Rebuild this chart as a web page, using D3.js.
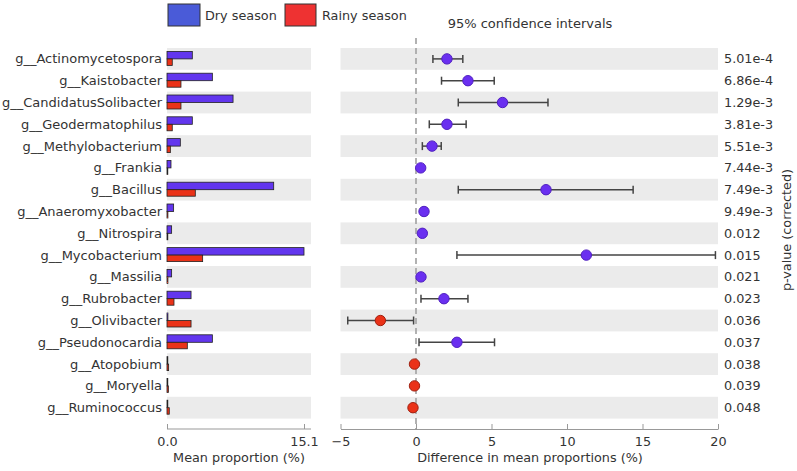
<!DOCTYPE html>
<html><head><meta charset="utf-8">
<script src="https://cdn.jsdelivr.net/npm/d3@7"></script>
<style>body{margin:0;background:#fff;}text{font-family:"DejaVu Sans",sans-serif;fill:#333;}</style>
</head><body><svg id="c" width="797" height="471"></svg>
<script>
const genera = ["g__Actinomycetospora","g__Kaistobacter","g__CandidatusSolibacter","g__Geodermatophilus","g__Methylobacterium","g__Frankia","g__Bacillus","g__Anaeromyxobacter","g__Nitrospira","g__Mycobacterium","g__Massilia","g__Rubrobacter","g__Olivibacter","g__Pseudonocardia","g__Atopobium","g__Moryella","g__Ruminococcus"];
const dryMean = [2.79,5.0,7.28,2.79,1.47,0.44,11.76,0.73,0.51,15.1,0.51,2.65,0.1,5.0,0.05,0.03,0.05];
const rainyMean = [0.58,1.54,1.54,0.58,0.37,0.06,3.12,0.1,0.06,3.93,0.1,0.77,2.65,2.24,0.18,0.15,0.25];
const diff = [2.05,3.44,5.73,2.05,1.06,0.31,8.61,0.53,0.42,11.28,0.33,1.85,-2.36,2.71,-0.1,-0.1,-0.2];
const ciLow = [1.12,1.69,2.8,0.88,0.42,0.2,2.8,0.35,0.3,2.71,0.22,0.33,-4.52,0.2,-0.15,-0.15,-0.27];
const ciHigh = [3.1,5.18,8.74,3.32,1.67,0.42,14.38,0.72,0.55,19.83,0.45,3.44,-0.16,5.2,-0.05,-0.05,-0.13];
const pValues = ["5.01e-4","6.86e-4","1.29e-3","3.81e-3","5.51e-3","7.44e-3","7.49e-3","9.49e-3","0.012","0.015","0.021","0.023","0.036","0.037","0.038","0.039","0.048"];
const leftTicks = [0, 15.1];
const rightTicks = [-5,0,5,10,15,20];

const svg = d3.select("#c");
const blueBar="#6236ee", redBar="#ea3218", blueLeg="#4a5bd8", redLeg="#ee3232";
const FS = 12.8;
const y = d3.scaleBand().domain(genera).range([48, 418.6]).padding(0);
const xL = d3.scaleLinear().domain([0,15.1]).range([167,304]);
const xR = d3.scaleLinear().domain([-5,20]).range([340.5,718]);

// bands
genera.forEach((g,i)=>{
  if(i%2===0){
    svg.append("rect").attr("x",167).attr("y",y(g)).attr("width",311-167).attr("height",y.bandwidth()).attr("fill","#ebebeb");
    svg.append("rect").attr("x",xR(-5)).attr("y",y(g)).attr("width",xR(20)-xR(-5)).attr("height",y.bandwidth()).attr("fill","#ebebeb");
  }
});

// labels
svg.append("g").selectAll("text").data(genera).join("text")
  .attr("x",162).attr("y",g=>y(g)+y.bandwidth()/2).attr("dy","0.35em")
  .attr("text-anchor","end").attr("font-size",13).text(d=>d);

// bars
const c = g=>y(g)+y.bandwidth()/2;
svg.append("g").selectAll("rect").data(genera).join("rect")
  .attr("x",xL(0)).attr("y",(g)=>c(g)-7.5).attr("width",(g,i)=>Math.max(0.8,xL(dryMean[i])-xL(0))).attr("height",7.5)
  .attr("fill",blueBar).attr("stroke","#222").attr("stroke-width",0.8);
svg.append("g").selectAll("rect").data(genera).join("rect")
  .attr("x",xL(0)).attr("y",(g)=>c(g)).attr("width",(g,i)=>Math.max(0.8,xL(rainyMean[i])-xL(0))).attr("height",6.5)
  .attr("fill",redBar).attr("stroke","#222").attr("stroke-width",0.8);

// left axis
const axL = svg.append("g").attr("transform","translate(0,429)")
  .call(d3.axisBottom(xL).tickValues(leftTicks).tickFormat(d3.format(".1f")).tickSizeInner(-5).tickSizeOuter(0).tickPadding(8));
axL.select(".domain").attr("d","M167,0H311").attr("stroke","#999");
axL.selectAll(".tick line").attr("stroke","#999");
axL.selectAll(".tick text").attr("font-size",FS).attr("fill","#333").attr("font-family","DejaVu Sans");
svg.append("text").attr("x",239).attr("y",462).attr("text-anchor","middle").attr("font-size",FS).text("Mean proportion (%)");

// zero dashed line
svg.append("line").attr("x1",xR(0)).attr("x2",xR(0)).attr("y1",38).attr("y2",429)
  .attr("stroke","#aaa").attr("stroke-width",1.8).attr("stroke-dasharray","6,4");

// error bars
const eb = svg.append("g").attr("stroke","#444").attr("stroke-width",1.5);
genera.forEach((g,i)=>{
  if(xR(ciHigh[i])-xR(ciLow[i])>4){
    eb.append("line").attr("x1",xR(ciLow[i])).attr("x2",xR(ciHigh[i])).attr("y1",c(g)).attr("y2",c(g));
    eb.append("line").attr("x1",xR(ciLow[i])).attr("x2",xR(ciLow[i])).attr("y1",c(g)-4).attr("y2",c(g)+4);
    eb.append("line").attr("x1",xR(ciHigh[i])).attr("x2",xR(ciHigh[i])).attr("y1",c(g)-4).attr("y2",c(g)+4);
  }
});
svg.append("g").selectAll("circle").data(genera).join("circle")
  .attr("cx",(g,i)=>xR(diff[i])).attr("cy",c).attr("r",5.2)
  .attr("fill",(g,i)=>diff[i]>=0?"#6a2ff0":"#ea3218")
  .attr("stroke",(g,i)=>diff[i]>=0?"#5020c0":"#a02010").attr("stroke-width",1);

// right axis
const axR = svg.append("g").attr("transform","translate(0,429)")
  .call(d3.axisBottom(xR).tickValues(rightTicks).tickFormat(d=>d<0?"\u2212"+Math.abs(d):d).tickSizeInner(-5).tickSizeOuter(0).tickPadding(8));
axR.select(".domain").attr("stroke","#999");
axR.selectAll(".tick line").attr("stroke","#999");
axR.selectAll(".tick text").attr("font-size",FS).attr("fill","#333").attr("font-family","DejaVu Sans");
svg.append("text").attr("x",530).attr("y",462).attr("text-anchor","middle").attr("font-size",FS).text("Difference in mean proportions (%)");

// p-values
svg.append("g").selectAll("text").data(genera).join("text")
  .attr("x",724).attr("y",c).attr("dy","0.35em").attr("font-size",FS).text((g,i)=>pValues[i]);
svg.append("text").attr("transform","translate(791,230) rotate(-90)").attr("text-anchor","middle").attr("font-size",FS).text("p-value (corrected)");

// title
svg.append("text").attr("x",530).attr("y",28).attr("text-anchor","middle").attr("font-size",13).text("95% confidence intervals");

// legend
svg.append("rect").attr("x",168).attr("y",4).attr("width",32).attr("height",22).attr("fill",blueLeg).attr("stroke","#333");
svg.append("text").attr("x",205).attr("y",20).attr("font-size",12.8).text("Dry season");
svg.append("rect").attr("x",285).attr("y",4).attr("width",31).attr("height",22).attr("fill",redLeg).attr("stroke","#333");
svg.append("text").attr("x",322).attr("y",20).attr("font-size",12.8).text("Rainy season");
</script></body></html>
